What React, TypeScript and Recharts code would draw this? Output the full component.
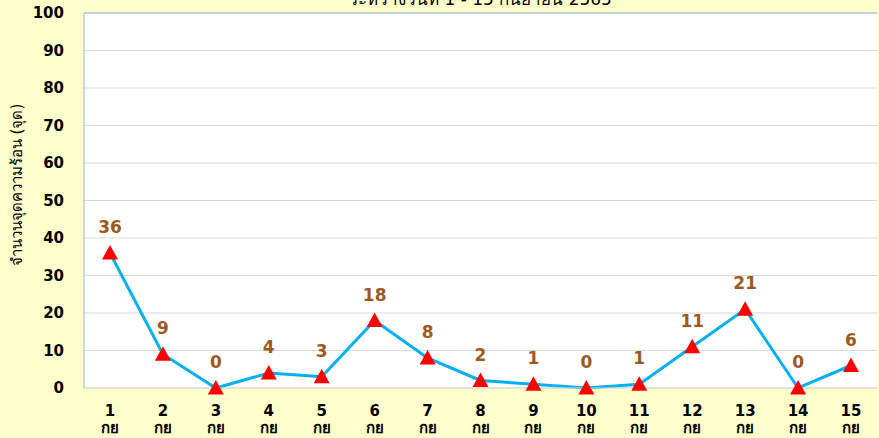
import React from "react";
import {
  LineChart,
  Line,
  XAxis,
  YAxis,
  CartesianGrid,
  ReferenceLine,
  LabelList,
} from "recharts";

const days = ["1", "2", "3", "4", "5", "6", "7", "8", "9", "10", "11", "12", "13", "14", "15"];
const hotspots = [36, 9, 0, 4, 3, 18, 8, 2, 1, 0, 1, 11, 21, 0, 6];
const yTicks = [0, 10, 20, 30, 40, 50, 60, 70, 80, 90, 100];
const monthLabel = "กย";
const title = "ระหว่างวันที่ 1 - 15 กันยายน 2565";
const yTitle = "จำนวนจุดความร้อน (จุด)";

const data = days.map((d, i) => ({ day: d, value: hotspots[i] }));

const FONT = "Tahoma, 'DejaVu Sans', 'Noto Sans', sans-serif";
const BORDER = "#95B3D7";

const Triangle = (props: any) => {
  const { cx, cy, index } = props;
  if (cx == null || cy == null) return <g key={index} />;
  const s = 8;
  return (
    <polygon
      key={index}
      points={`${cx},${cy - s} ${cx - s},${cy + s * 0.8} ${cx + s},${cy + s * 0.8}`}
      fill="#FF0000"
    />
  );
};

const DayTick = (props: any) => {
  const { x, y, payload } = props;
  return (
    <g>
      <text x={x} y={y + 20} textAnchor="middle" fill="#000" fontFamily={FONT} fontWeight="bold" fontSize={15}>
        {payload.value}
      </text>
      <text x={x} y={y + 37} textAnchor="middle" fill="#000" fontFamily={FONT} fontWeight="bold" fontSize={15}>
        {monthLabel}
      </text>
    </g>
  );
};

export default function App() {
  return (
    <div
      style={{
        position: "absolute",
        left: 0,
        top: 0,
        width: 879,
        height: 438,
        background: "#FFFFCC",
        overflow: "hidden",
      }}
    >
      <div
        style={{
          position: "absolute",
          top: -15,
          left: 0,
          width: 961,
          textAlign: "center",
          fontFamily: FONT,
          fontSize: 17,
          color: "#000",
        }}
      >
        {title}
      </div>
      <LineChart width={879} height={438} data={data} margin={{ top: 13, right: 2, left: 0, bottom: 0 }}>
        <CartesianGrid vertical={false} stroke="#D9D9D9" fill="#FFFFFF" />
        <ReferenceLine y={100} stroke={BORDER} />
        <XAxis
          dataKey="day"
          height={50}
          tick={<DayTick />}
          tickLine={false}
          axisLine={{ stroke: "#D9D9D9" }}
          interval={0}
          padding={{ left: 26, right: 26 }}
        />
        <YAxis
          width={84}
          domain={[0, 100]}
          ticks={yTicks}
          tickLine={false}
          axisLine={{ stroke: BORDER }}
          tickMargin={14}
          tick={{ fill: "#000", fontFamily: FONT, fontWeight: "bold", fontSize: 15 }}
          label={{
            content: () => (
              <text
                x={17}
                y={185}
                transform="rotate(-90 17 185)"
                textAnchor="middle"
                dominantBaseline="central"
                fontFamily={FONT}
                fontSize={15}
                fill="#000"
              >
                {yTitle}
              </text>
            ),
          }}
        />
        <YAxis
          yAxisId="frame"
          orientation="right"
          width={0}
          domain={[0, 100]}
          tick={false}
          tickLine={false}
          axisLine={{ stroke: BORDER }}
        />
        <Line
          type="linear"
          dataKey="value"
          stroke="#00B0F0"
          strokeWidth={3}
          dot={Triangle}
          activeDot={false}
          isAnimationActive={false}
        >
          <LabelList
            dataKey="value"
            position="top"
            offset={20}
            fill="#9C5A1E"
            fontFamily={FONT}
            fontWeight="bold"
            fontSize={17}
          />
        </Line>
      </LineChart>
    </div>
  );
}
